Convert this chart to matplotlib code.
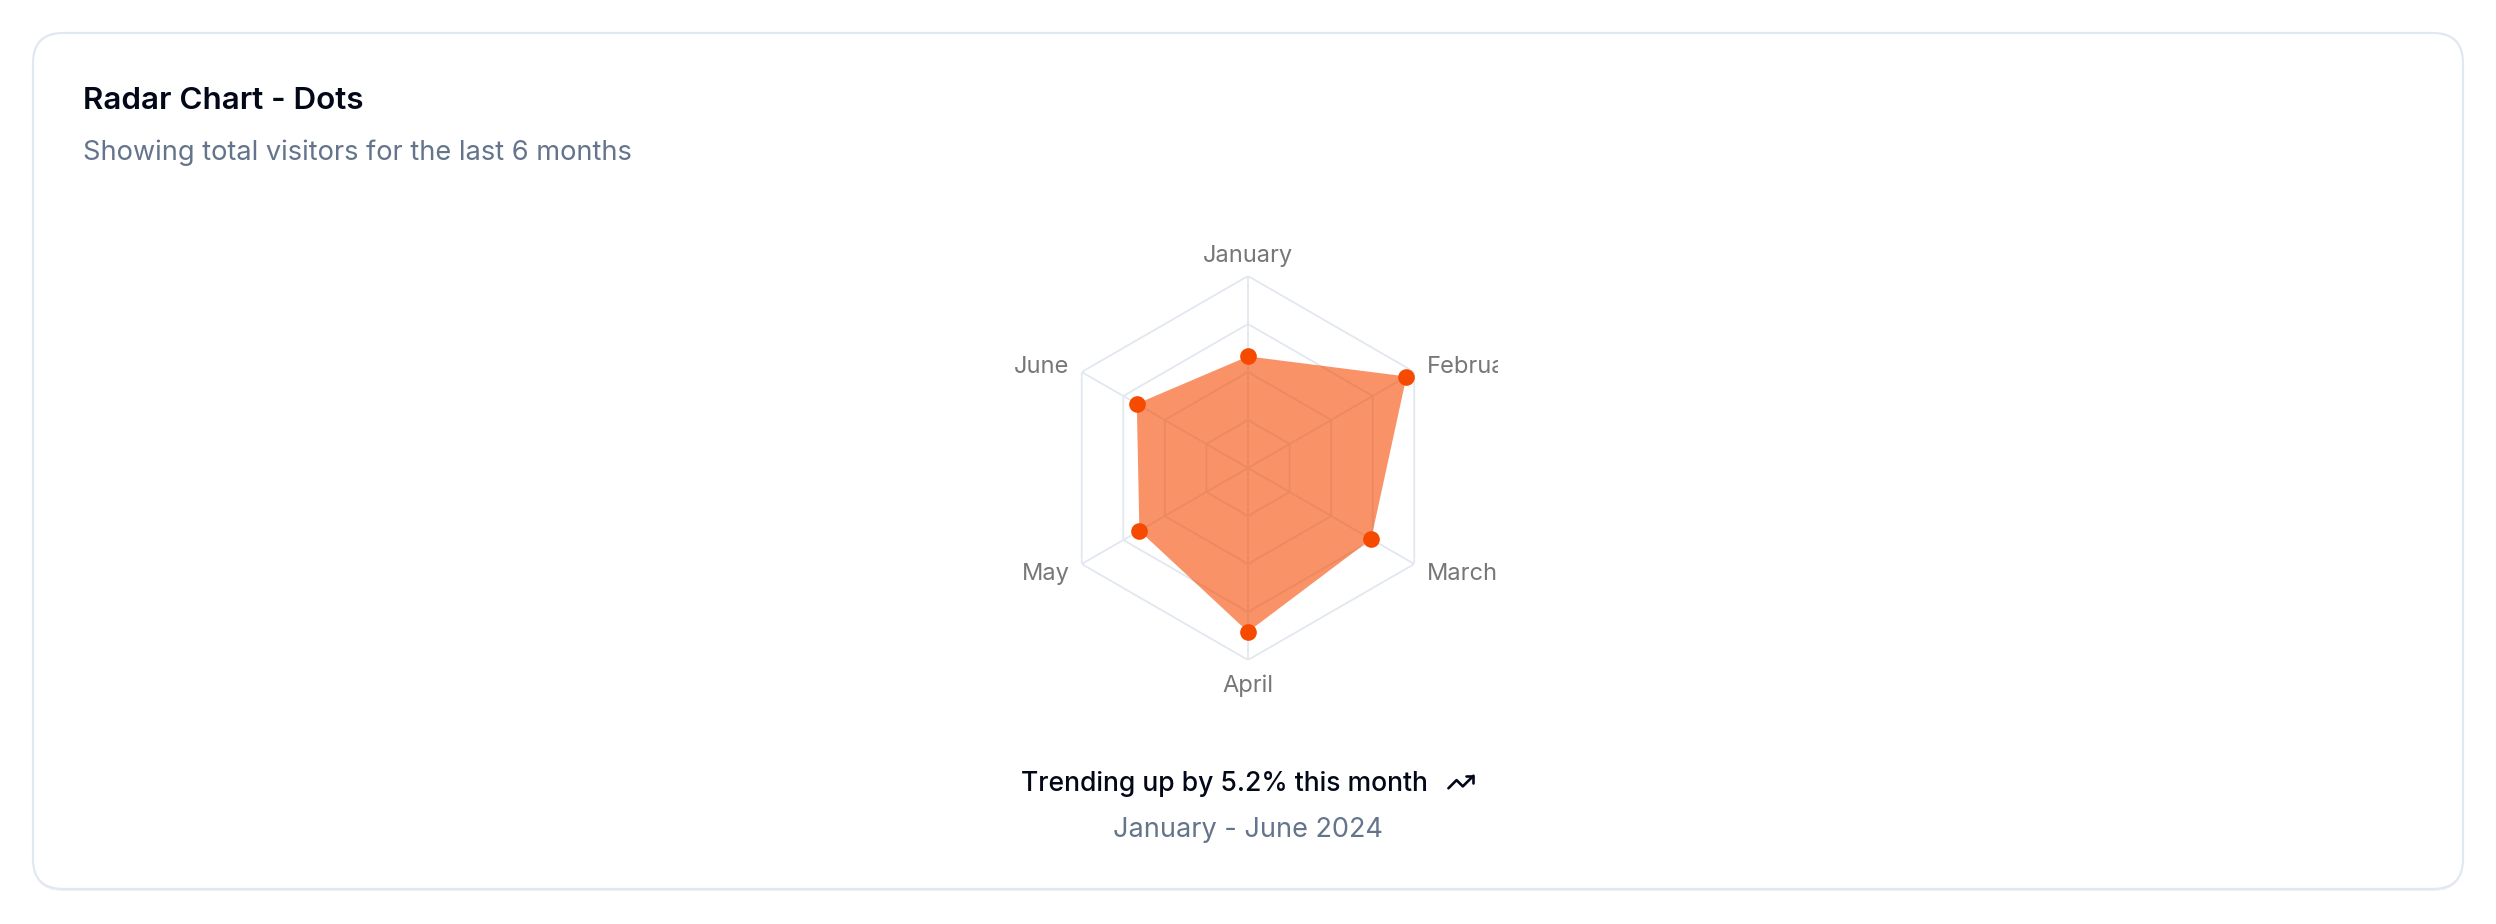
import numpy as np
import matplotlib
matplotlib.use("Agg")
import matplotlib.pyplot as plt
from matplotlib.patches import FancyBboxPatch
from matplotlib.transforms import Bbox, IdentityTransform, TransformedBbox

# ---- data ----
months = ["January", "February", "March", "April", "May", "June"]
desktop = [186, 305, 237, 273, 209, 214]
grid_levels = [80, 160, 240, 320]
title = "Radar Chart - Dots"
subtitle = "Showing total visitors for the last 6 months"
footer_main = "Trending up by 5.2% this month"
footer_sub = "January - June 2024"

# ---- style ----
W, H = 2496, 924
DPI = 100
FONT = ["Inter", "DejaVu Sans"]
ORANGE = "#f54a00"
GRID = "#e2e8f0"
MUTED = "#64748b"
FG = "#020817"
TICK = "#777777"

plt.rcParams["font.family"] = FONT

fig = plt.figure(figsize=(W / DPI, H / DPI), dpi=DPI)
fig.patch.set_facecolor("white")

# background axes in pixel coords (y down)
bg = fig.add_axes([0, 0, 1, 1])
bg.set_xlim(0, W)
bg.set_ylim(H, 0)
bg.axis("off")

# card shadow + card
shadow = FancyBboxPatch((33, 35), 2430, 856, boxstyle="round,pad=0,rounding_size=30",
                        facecolor="#000000", alpha=0.05, edgecolor="none", zorder=1)
bg.add_patch(shadow)
card = FancyBboxPatch((33, 33), 2430, 856, boxstyle="round,pad=0,rounding_size=30",
                      facecolor="white", edgecolor=GRID, linewidth=1.6, zorder=2)
bg.add_patch(card)

bg.text(83, 109, title, fontsize=22.6, fontweight="semibold", color=FG,
        ha="left", va="baseline", zorder=3)
bg.text(83, 160, subtitle, fontsize=19.6, color=MUTED, ha="left", va="baseline", zorder=3)

# footer row: text + icon centered at chart center
cx = W / 2
fig.canvas.draw()
renderer = fig.canvas.get_renderer()
t1 = bg.text(0, 790.7, footer_main, fontsize=19.1, fontweight="medium", color=FG,
             ha="left", va="baseline", zorder=3)
tw = t1.get_window_extent(renderer).width
gap = 21
icon_w = 27
x0 = cx - (tw + gap + icon_w) / 2
t1.set_x(x0)
# lucide trending-up icon (24x24 viewbox)
icon_a = np.array([[22, 7], [13.5, 15.5], [8.5, 10.5], [2, 17]])
icon_b = np.array([[16, 7], [22, 7], [22, 13]])
s = 1.25
ix0 = x0 + tw + gap - 2 * s
iy0 = 782 - 12 * s
for seg in (icon_a, icon_b):
    bg.plot(ix0 + seg[:, 0] * s, iy0 + seg[:, 1] * s, color=FG, lw=1.9,
            solid_capstyle="round", solid_joinstyle="round", zorder=3)
bg.text(cx, 837.3, footer_sub, fontsize=19.5, color=MUTED, ha="center", va="baseline", zorder=3)

# ---- radar ----
R = 192
cy = 468
ax = fig.add_axes([(cx - R) / W, (H - cy - R) / H, 2 * R / W, 2 * R / H], projection="polar")
ax.set_theta_offset(np.pi / 2)
ax.set_theta_direction(-1)
ax.set_ylim(0, grid_levels[-1])
ax.set_xticks([])
ax.set_yticks([])
ax.grid(False)
ax.spines["polar"].set_visible(False)
ax.patch.set_visible(False)

n = len(months)
theta = np.arange(n) * 2 * np.pi / n
theta_c = np.append(theta, theta[0])

for lv in grid_levels:
    ax.plot(theta_c, [lv] * (n + 1), color=GRID, lw=1.3, zorder=1)
for th in theta:
    ax.plot([th, th], [0, grid_levels[-1]], color=GRID, lw=1.3, zorder=1)

vals = np.array(desktop, dtype=float)
ax.fill(theta_c, np.append(vals, vals[0]), color=ORANGE, alpha=0.6, lw=0, zorder=2)
ax.plot(theta, vals, "o", color=ORANGE, markersize=12, markeredgewidth=0, zorder=3)

clip = TransformedBbox(Bbox([[998, 0], [1498, H]]), IdentityTransform())
off = 14.4
for th, lab in zip(theta, months):
    sx, cyv = np.sin(th), np.cos(th)
    if abs(sx) < 1e-6:
        ha = "center"
    elif sx > 0:
        ha = "left"
    else:
        ha = "right"
    if cyv > 0.9:
        va = "baseline"
    elif cyv < -0.9:
        va = "top"
    else:
        va = "center_baseline"
    t = ax.annotate(lab, xy=(th, grid_levels[-1]), xytext=(off * sx, off * cyv),
                    textcoords="offset pixels", ha=ha, va=va, fontsize=17, color=TICK,
                    annotation_clip=False)
    t.set_clip_on(True)
    t.set_clip_box(clip)

fig.savefig("out.png", dpi=DPI, facecolor="white")
